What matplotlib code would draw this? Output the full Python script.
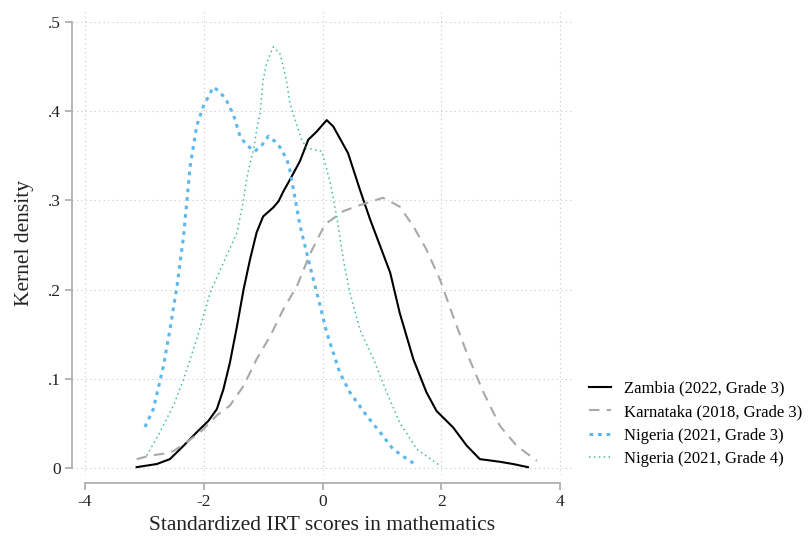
import numpy as np
import matplotlib
matplotlib.use("Agg")
import matplotlib.pyplot as plt

# Kernel density curves
zambia_x = [-3.13, -2.79, -2.57, -2.34, -2.12, -1.92, -1.78, -1.67, -1.56, -1.44, -1.33, -1.22,
            -1.11, -1.00, -0.83, -0.74, -0.66, -0.55, -0.38, -0.24, -0.10, 0.07, 0.18, 0.43,
            0.63, 0.80, 0.97, 1.14, 1.30, 1.53, 1.75, 1.92, 2.20, 2.43, 2.65, 2.99, 3.21, 3.46]
zambia_y = [0.001, 0.0045, 0.010, 0.025, 0.040, 0.053, 0.066, 0.088, 0.118, 0.159, 0.200, 0.234,
            0.264, 0.282, 0.292, 0.299, 0.310, 0.323, 0.344, 0.368, 0.377, 0.390, 0.383, 0.353,
            0.312, 0.279, 0.249, 0.219, 0.174, 0.122, 0.085, 0.064, 0.0455, 0.025, 0.010, 0.007, 0.0045, 0.001]

karnataka_x = [-3.13, -2.90, -2.68, -2.51, -2.29, -2.06, -1.78, -1.56, -1.33, -1.11, -0.88, -0.66,
               -0.43, -0.21, 0.04, 0.35, 0.69, 1.02, 1.30, 1.53, 1.75, 1.98, 2.20, 2.43, 2.71,
               2.99, 3.27, 3.61]
karnataka_y = [0.010, 0.014, 0.016, 0.019, 0.029, 0.040, 0.059, 0.070, 0.092, 0.122, 0.148, 0.178,
               0.204, 0.240, 0.273, 0.288, 0.296, 0.303, 0.293, 0.271, 0.245, 0.211, 0.170, 0.129,
               0.085, 0.047, 0.025, 0.008]

nigeria3_x = [-2.99, -2.85, -2.68, -2.57, -2.45, -2.34, -2.26, -2.23, -2.12, -2.01, -1.84, -1.73,
              -1.61, -1.50, -1.39, -1.28, -1.14, -1.02, -0.91, -0.80, -0.72, -0.60, -0.55, -0.47,
              -0.38, -0.21, -0.04, 0.07, 0.29, 0.46, 0.74, 0.97, 1.19, 1.47, 1.53]
nigeria3_y = [0.046, 0.066, 0.114, 0.155, 0.204, 0.260, 0.316, 0.338, 0.383, 0.405, 0.427, 0.422,
              0.411, 0.396, 0.372, 0.362, 0.355, 0.362, 0.372, 0.366, 0.360, 0.346, 0.334, 0.305,
              0.272, 0.226, 0.182, 0.152, 0.107, 0.085, 0.059, 0.040, 0.021, 0.008, 0.0056]

nigeria4_x = [-2.96, -2.74, -2.51, -2.34, -2.12, -1.89, -1.67, -1.44, -1.33, -1.28, -1.22, -1.16,
              -1.11, -1.05, -1.00, -0.94, -0.83, -0.72, -0.66, -0.60, -0.55, -0.46, -0.35, -0.27,
              -0.15, -0.01, 0.13, 0.24, 0.35, 0.46, 0.63, 0.86, 1.08, 1.30, 1.59, 1.98]
nigeria4_y = [0.014, 0.040, 0.070, 0.0995, 0.144, 0.197, 0.230, 0.264, 0.301, 0.323, 0.342, 0.357,
              0.379, 0.398, 0.435, 0.454, 0.472, 0.465, 0.450, 0.431, 0.409, 0.390, 0.368, 0.359,
              0.357, 0.355, 0.320, 0.282, 0.234, 0.197, 0.155, 0.122, 0.085, 0.051, 0.021, 0.0026]

labels = ["Zambia (2022, Grade 3)", "Karnataka (2018, Grade 3)",
          "Nigeria (2021, Grade 3)", "Nigeria (2021, Grade 4)"]

plt.rcParams['font.family'] = ['Liberation Serif', 'DejaVu Serif']

fig = plt.figure(figsize=(8.12, 5.40), dpi=100)
ax = fig.add_axes([72/812, 65/540, 500/812, 464/540])

ax.plot(zambia_x, zambia_y, color="black", lw=1.5, label=labels[0])
ax.plot(karnataka_x, karnataka_y, color="#a8a8a8", lw=1.5, dashes=(5, 3.5), label=labels[1])
ax.plot(nigeria3_x, nigeria3_y, color="#5bb8ec", lw=2.2, dashes=(1.2, 1.6), label=labels[2])
ax.plot(nigeria4_x, nigeria4_y, color="#40c090", lw=1.1, dashes=(1, 2.2), label=labels[3])

ax.set_xlim(-4.219, 4.202)
ax.set_ylim(-0.0078, 0.5123)
ax.set_xticks([-4, -2, 0, 2, 4])
ax.set_xticklabels(["-4", "-2", "0", "2", "4"])
ax.set_yticks([0, 0.1, 0.2, 0.3, 0.4, 0.5])
ax.set_yticklabels(["0", ".1", ".2", ".3", ".4", ".5"])

ax.grid(True, color="#c8c8c8", linestyle=(0, (1, 3)), lw=0.8)
for s in ["top", "right"]:
    ax.spines[s].set_visible(False)
ax.spines["bottom"].set_position(("outward", 6))
ax.spines["bottom"].set_bounds(-4, 4)
ax.spines["left"].set_bounds(0, 0.5)
for s in ["bottom", "left"]:
    ax.spines[s].set_color("#b0b0b0")
    ax.spines[s].set_linewidth(1.3)
ax.tick_params(colors="#b0b0b0", labelcolor="#222222", labelsize=12.5, length=5, width=1.3, pad=3)

ax.set_xlabel("Standardized IRT scores in mathematics", fontsize=15.5, color="#222222", labelpad=4)
ax.set_ylabel("Kernel density", fontsize=15.5, color="#222222", labelpad=10)

ax.legend(loc="center left", bbox_to_anchor=(1.034, 0.11), frameon=False, fontsize=12,
          handlelength=1.35, labelspacing=0.45, handletextpad=0.75, borderaxespad=0,
          borderpad=0)

fig.savefig("out.png", dpi=100)
